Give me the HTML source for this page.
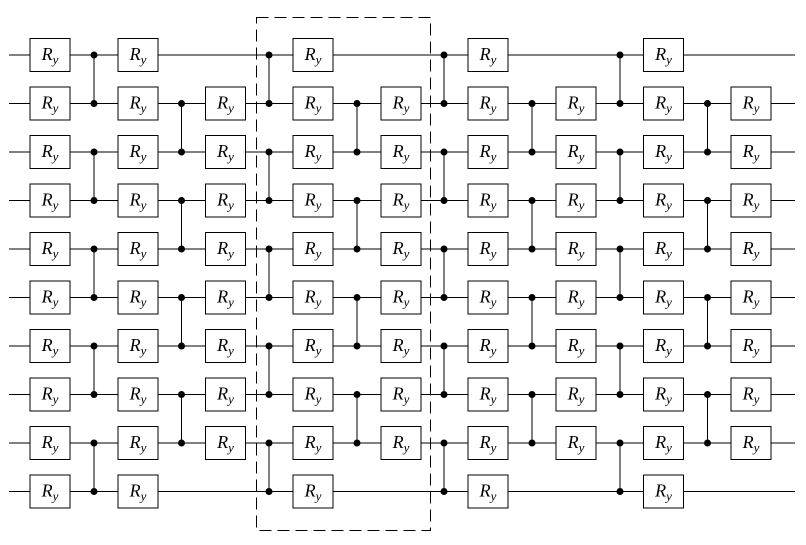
<!DOCTYPE html>
<html><head><meta charset="utf-8"><style>
html,body{margin:0;padding:0;background:#fff}
svg{display:block}
line,rect{shape-rendering:crispEdges}
rect.b{fill:#fff;stroke:#000;stroke-width:1}
text{font-family:"Liberation Serif",serif;font-style:italic;font-size:18px;text-anchor:middle}
tspan{font-size:13px}
</style></head><body>
<svg width="806" height="545" viewBox="0 0 806 545" xmlns="http://www.w3.org/2000/svg">
<defs>
<g id="bx"><rect class="b" x="-20" y="-16.5" width="40" height="33"/><text y="5">R<tspan dy="4">y</tspan></text></g>
</defs>
<g stroke="#000" stroke-width="1">
<line x1="9" y1="55" x2="795" y2="55"/>
<line x1="9" y1="103.5" x2="795" y2="103.5"/>
<line x1="9" y1="152" x2="795" y2="152"/>
<line x1="9" y1="200.5" x2="795" y2="200.5"/>
<line x1="9" y1="249" x2="795" y2="249"/>
<line x1="9" y1="297.5" x2="795" y2="297.5"/>
<line x1="9" y1="346" x2="795" y2="346"/>
<line x1="9" y1="394.5" x2="795" y2="394.5"/>
<line x1="9" y1="443" x2="795" y2="443"/>
<line x1="9" y1="491.5" x2="795" y2="491.5"/>
<g id="ev">
<line x1="94" y1="55" x2="94" y2="103.5"/>
<line x1="94" y1="152" x2="94" y2="200.5"/>
<line x1="94" y1="249" x2="94" y2="297.5"/>
<line x1="94" y1="346" x2="94" y2="394.5"/>
<line x1="94" y1="443" x2="94" y2="491.5"/>
<g stroke="none" fill="#000">
<circle cx="94" cy="55" r="3.5"/><circle cx="94" cy="103.5" r="3.5"/>
<circle cx="94" cy="152" r="3.5"/><circle cx="94" cy="200.5" r="3.5"/>
<circle cx="94" cy="249" r="3.5"/><circle cx="94" cy="297.5" r="3.5"/>
<circle cx="94" cy="346" r="3.5"/><circle cx="94" cy="394.5" r="3.5"/>
<circle cx="94" cy="443" r="3.5"/><circle cx="94" cy="491.5" r="3.5"/>
</g></g>
<use href="#ev" x="175"/>
<use href="#ev" x="350"/>
<use href="#ev" x="526"/>
<g id="od">
<line x1="181.5" y1="103.5" x2="181.5" y2="152"/>
<line x1="181.5" y1="200.5" x2="181.5" y2="249"/>
<line x1="181.5" y1="297.5" x2="181.5" y2="346"/>
<line x1="181.5" y1="394.5" x2="181.5" y2="443"/>
<g stroke="none" fill="#000">
<circle cx="181.5" cy="103.5" r="3.5"/><circle cx="181.5" cy="152" r="3.5"/>
<circle cx="181.5" cy="200.5" r="3.5"/><circle cx="181.5" cy="249" r="3.5"/>
<circle cx="181.5" cy="297.5" r="3.5"/><circle cx="181.5" cy="346" r="3.5"/>
<circle cx="181.5" cy="394.5" r="3.5"/><circle cx="181.5" cy="443" r="3.5"/>
</g></g>
<use href="#od" x="175.5"/>
<use href="#od" x="350.5"/>
<use href="#od" x="526"/>
<rect x="256.5" y="17.5" width="174" height="513" fill="none" stroke="#000" stroke-dasharray="12,6"/>
</g>
<g transform="translate(50,55)"><rect class="b" x="-20" y="-16.5" width="40" height="33"/><text y="5">R<tspan dy="4">y</tspan></text></g>
<g transform="translate(50,103.5)"><rect class="b" x="-20" y="-16.5" width="40" height="33"/><text y="5">R<tspan dy="4">y</tspan></text></g>
<g transform="translate(50,152)"><rect class="b" x="-20" y="-16.5" width="40" height="33"/><text y="5">R<tspan dy="4">y</tspan></text></g>
<g transform="translate(50,200.5)"><rect class="b" x="-20" y="-16.5" width="40" height="33"/><text y="5">R<tspan dy="4">y</tspan></text></g>
<g transform="translate(50,249)"><rect class="b" x="-20" y="-16.5" width="40" height="33"/><text y="5">R<tspan dy="4">y</tspan></text></g>
<g transform="translate(50,297.5)"><rect class="b" x="-20" y="-16.5" width="40" height="33"/><text y="5">R<tspan dy="4">y</tspan></text></g>
<g transform="translate(50,346)"><rect class="b" x="-20" y="-16.5" width="40" height="33"/><text y="5">R<tspan dy="4">y</tspan></text></g>
<g transform="translate(50,394.5)"><rect class="b" x="-20" y="-16.5" width="40" height="33"/><text y="5">R<tspan dy="4">y</tspan></text></g>
<g transform="translate(50,443)"><rect class="b" x="-20" y="-16.5" width="40" height="33"/><text y="5">R<tspan dy="4">y</tspan></text></g>
<g transform="translate(50,491.5)"><rect class="b" x="-20" y="-16.5" width="40" height="33"/><text y="5">R<tspan dy="4">y</tspan></text></g>
<g transform="translate(88,0)">
<g transform="translate(50,55)"><rect class="b" x="-20" y="-16.5" width="40" height="33"/><text y="5">R<tspan dy="4">y</tspan></text></g>
<g transform="translate(50,103.5)"><rect class="b" x="-20" y="-16.5" width="40" height="33"/><text y="5">R<tspan dy="4">y</tspan></text></g>
<g transform="translate(50,152)"><rect class="b" x="-20" y="-16.5" width="40" height="33"/><text y="5">R<tspan dy="4">y</tspan></text></g>
<g transform="translate(50,200.5)"><rect class="b" x="-20" y="-16.5" width="40" height="33"/><text y="5">R<tspan dy="4">y</tspan></text></g>
<g transform="translate(50,249)"><rect class="b" x="-20" y="-16.5" width="40" height="33"/><text y="5">R<tspan dy="4">y</tspan></text></g>
<g transform="translate(50,297.5)"><rect class="b" x="-20" y="-16.5" width="40" height="33"/><text y="5">R<tspan dy="4">y</tspan></text></g>
<g transform="translate(50,346)"><rect class="b" x="-20" y="-16.5" width="40" height="33"/><text y="5">R<tspan dy="4">y</tspan></text></g>
<g transform="translate(50,394.5)"><rect class="b" x="-20" y="-16.5" width="40" height="33"/><text y="5">R<tspan dy="4">y</tspan></text></g>
<g transform="translate(50,443)"><rect class="b" x="-20" y="-16.5" width="40" height="33"/><text y="5">R<tspan dy="4">y</tspan></text></g>
<g transform="translate(50,491.5)"><rect class="b" x="-20" y="-16.5" width="40" height="33"/><text y="5">R<tspan dy="4">y</tspan></text></g>
</g>
<g transform="translate(263,0)">
<g transform="translate(50,55)"><rect class="b" x="-20" y="-16.5" width="40" height="33"/><text y="5">R<tspan dy="4">y</tspan></text></g>
<g transform="translate(50,103.5)"><rect class="b" x="-20" y="-16.5" width="40" height="33"/><text y="5">R<tspan dy="4">y</tspan></text></g>
<g transform="translate(50,152)"><rect class="b" x="-20" y="-16.5" width="40" height="33"/><text y="5">R<tspan dy="4">y</tspan></text></g>
<g transform="translate(50,200.5)"><rect class="b" x="-20" y="-16.5" width="40" height="33"/><text y="5">R<tspan dy="4">y</tspan></text></g>
<g transform="translate(50,249)"><rect class="b" x="-20" y="-16.5" width="40" height="33"/><text y="5">R<tspan dy="4">y</tspan></text></g>
<g transform="translate(50,297.5)"><rect class="b" x="-20" y="-16.5" width="40" height="33"/><text y="5">R<tspan dy="4">y</tspan></text></g>
<g transform="translate(50,346)"><rect class="b" x="-20" y="-16.5" width="40" height="33"/><text y="5">R<tspan dy="4">y</tspan></text></g>
<g transform="translate(50,394.5)"><rect class="b" x="-20" y="-16.5" width="40" height="33"/><text y="5">R<tspan dy="4">y</tspan></text></g>
<g transform="translate(50,443)"><rect class="b" x="-20" y="-16.5" width="40" height="33"/><text y="5">R<tspan dy="4">y</tspan></text></g>
<g transform="translate(50,491.5)"><rect class="b" x="-20" y="-16.5" width="40" height="33"/><text y="5">R<tspan dy="4">y</tspan></text></g>
</g>
<g transform="translate(438,0)">
<g transform="translate(50,55)"><rect class="b" x="-20" y="-16.5" width="40" height="33"/><text y="5">R<tspan dy="4">y</tspan></text></g>
<g transform="translate(50,103.5)"><rect class="b" x="-20" y="-16.5" width="40" height="33"/><text y="5">R<tspan dy="4">y</tspan></text></g>
<g transform="translate(50,152)"><rect class="b" x="-20" y="-16.5" width="40" height="33"/><text y="5">R<tspan dy="4">y</tspan></text></g>
<g transform="translate(50,200.5)"><rect class="b" x="-20" y="-16.5" width="40" height="33"/><text y="5">R<tspan dy="4">y</tspan></text></g>
<g transform="translate(50,249)"><rect class="b" x="-20" y="-16.5" width="40" height="33"/><text y="5">R<tspan dy="4">y</tspan></text></g>
<g transform="translate(50,297.5)"><rect class="b" x="-20" y="-16.5" width="40" height="33"/><text y="5">R<tspan dy="4">y</tspan></text></g>
<g transform="translate(50,346)"><rect class="b" x="-20" y="-16.5" width="40" height="33"/><text y="5">R<tspan dy="4">y</tspan></text></g>
<g transform="translate(50,394.5)"><rect class="b" x="-20" y="-16.5" width="40" height="33"/><text y="5">R<tspan dy="4">y</tspan></text></g>
<g transform="translate(50,443)"><rect class="b" x="-20" y="-16.5" width="40" height="33"/><text y="5">R<tspan dy="4">y</tspan></text></g>
<g transform="translate(50,491.5)"><rect class="b" x="-20" y="-16.5" width="40" height="33"/><text y="5">R<tspan dy="4">y</tspan></text></g>
</g>
<g transform="translate(613.5,0)">
<g transform="translate(50,55)"><rect class="b" x="-20" y="-16.5" width="40" height="33"/><text y="5">R<tspan dy="4">y</tspan></text></g>
<g transform="translate(50,103.5)"><rect class="b" x="-20" y="-16.5" width="40" height="33"/><text y="5">R<tspan dy="4">y</tspan></text></g>
<g transform="translate(50,152)"><rect class="b" x="-20" y="-16.5" width="40" height="33"/><text y="5">R<tspan dy="4">y</tspan></text></g>
<g transform="translate(50,200.5)"><rect class="b" x="-20" y="-16.5" width="40" height="33"/><text y="5">R<tspan dy="4">y</tspan></text></g>
<g transform="translate(50,249)"><rect class="b" x="-20" y="-16.5" width="40" height="33"/><text y="5">R<tspan dy="4">y</tspan></text></g>
<g transform="translate(50,297.5)"><rect class="b" x="-20" y="-16.5" width="40" height="33"/><text y="5">R<tspan dy="4">y</tspan></text></g>
<g transform="translate(50,346)"><rect class="b" x="-20" y="-16.5" width="40" height="33"/><text y="5">R<tspan dy="4">y</tspan></text></g>
<g transform="translate(50,394.5)"><rect class="b" x="-20" y="-16.5" width="40" height="33"/><text y="5">R<tspan dy="4">y</tspan></text></g>
<g transform="translate(50,443)"><rect class="b" x="-20" y="-16.5" width="40" height="33"/><text y="5">R<tspan dy="4">y</tspan></text></g>
<g transform="translate(50,491.5)"><rect class="b" x="-20" y="-16.5" width="40" height="33"/><text y="5">R<tspan dy="4">y</tspan></text></g>
</g>
<g transform="translate(175.5,0)">
<g transform="translate(50,103.5)"><rect class="b" x="-20" y="-16.5" width="40" height="33"/><text y="5">R<tspan dy="4">y</tspan></text></g>
<g transform="translate(50,152)"><rect class="b" x="-20" y="-16.5" width="40" height="33"/><text y="5">R<tspan dy="4">y</tspan></text></g>
<g transform="translate(50,200.5)"><rect class="b" x="-20" y="-16.5" width="40" height="33"/><text y="5">R<tspan dy="4">y</tspan></text></g>
<g transform="translate(50,249)"><rect class="b" x="-20" y="-16.5" width="40" height="33"/><text y="5">R<tspan dy="4">y</tspan></text></g>
<g transform="translate(50,297.5)"><rect class="b" x="-20" y="-16.5" width="40" height="33"/><text y="5">R<tspan dy="4">y</tspan></text></g>
<g transform="translate(50,346)"><rect class="b" x="-20" y="-16.5" width="40" height="33"/><text y="5">R<tspan dy="4">y</tspan></text></g>
<g transform="translate(50,394.5)"><rect class="b" x="-20" y="-16.5" width="40" height="33"/><text y="5">R<tspan dy="4">y</tspan></text></g>
<g transform="translate(50,443)"><rect class="b" x="-20" y="-16.5" width="40" height="33"/><text y="5">R<tspan dy="4">y</tspan></text></g>
</g>
<g transform="translate(351,0)">
<g transform="translate(50,103.5)"><rect class="b" x="-20" y="-16.5" width="40" height="33"/><text y="5">R<tspan dy="4">y</tspan></text></g>
<g transform="translate(50,152)"><rect class="b" x="-20" y="-16.5" width="40" height="33"/><text y="5">R<tspan dy="4">y</tspan></text></g>
<g transform="translate(50,200.5)"><rect class="b" x="-20" y="-16.5" width="40" height="33"/><text y="5">R<tspan dy="4">y</tspan></text></g>
<g transform="translate(50,249)"><rect class="b" x="-20" y="-16.5" width="40" height="33"/><text y="5">R<tspan dy="4">y</tspan></text></g>
<g transform="translate(50,297.5)"><rect class="b" x="-20" y="-16.5" width="40" height="33"/><text y="5">R<tspan dy="4">y</tspan></text></g>
<g transform="translate(50,346)"><rect class="b" x="-20" y="-16.5" width="40" height="33"/><text y="5">R<tspan dy="4">y</tspan></text></g>
<g transform="translate(50,394.5)"><rect class="b" x="-20" y="-16.5" width="40" height="33"/><text y="5">R<tspan dy="4">y</tspan></text></g>
<g transform="translate(50,443)"><rect class="b" x="-20" y="-16.5" width="40" height="33"/><text y="5">R<tspan dy="4">y</tspan></text></g>
</g>
<g transform="translate(526,0)">
<g transform="translate(50,103.5)"><rect class="b" x="-20" y="-16.5" width="40" height="33"/><text y="5">R<tspan dy="4">y</tspan></text></g>
<g transform="translate(50,152)"><rect class="b" x="-20" y="-16.5" width="40" height="33"/><text y="5">R<tspan dy="4">y</tspan></text></g>
<g transform="translate(50,200.5)"><rect class="b" x="-20" y="-16.5" width="40" height="33"/><text y="5">R<tspan dy="4">y</tspan></text></g>
<g transform="translate(50,249)"><rect class="b" x="-20" y="-16.5" width="40" height="33"/><text y="5">R<tspan dy="4">y</tspan></text></g>
<g transform="translate(50,297.5)"><rect class="b" x="-20" y="-16.5" width="40" height="33"/><text y="5">R<tspan dy="4">y</tspan></text></g>
<g transform="translate(50,346)"><rect class="b" x="-20" y="-16.5" width="40" height="33"/><text y="5">R<tspan dy="4">y</tspan></text></g>
<g transform="translate(50,394.5)"><rect class="b" x="-20" y="-16.5" width="40" height="33"/><text y="5">R<tspan dy="4">y</tspan></text></g>
<g transform="translate(50,443)"><rect class="b" x="-20" y="-16.5" width="40" height="33"/><text y="5">R<tspan dy="4">y</tspan></text></g>
</g>
<g transform="translate(701,0)">
<g transform="translate(50,103.5)"><rect class="b" x="-20" y="-16.5" width="40" height="33"/><text y="5">R<tspan dy="4">y</tspan></text></g>
<g transform="translate(50,152)"><rect class="b" x="-20" y="-16.5" width="40" height="33"/><text y="5">R<tspan dy="4">y</tspan></text></g>
<g transform="translate(50,200.5)"><rect class="b" x="-20" y="-16.5" width="40" height="33"/><text y="5">R<tspan dy="4">y</tspan></text></g>
<g transform="translate(50,249)"><rect class="b" x="-20" y="-16.5" width="40" height="33"/><text y="5">R<tspan dy="4">y</tspan></text></g>
<g transform="translate(50,297.5)"><rect class="b" x="-20" y="-16.5" width="40" height="33"/><text y="5">R<tspan dy="4">y</tspan></text></g>
<g transform="translate(50,346)"><rect class="b" x="-20" y="-16.5" width="40" height="33"/><text y="5">R<tspan dy="4">y</tspan></text></g>
<g transform="translate(50,394.5)"><rect class="b" x="-20" y="-16.5" width="40" height="33"/><text y="5">R<tspan dy="4">y</tspan></text></g>
<g transform="translate(50,443)"><rect class="b" x="-20" y="-16.5" width="40" height="33"/><text y="5">R<tspan dy="4">y</tspan></text></g>
</g>
</svg>
</body></html>
